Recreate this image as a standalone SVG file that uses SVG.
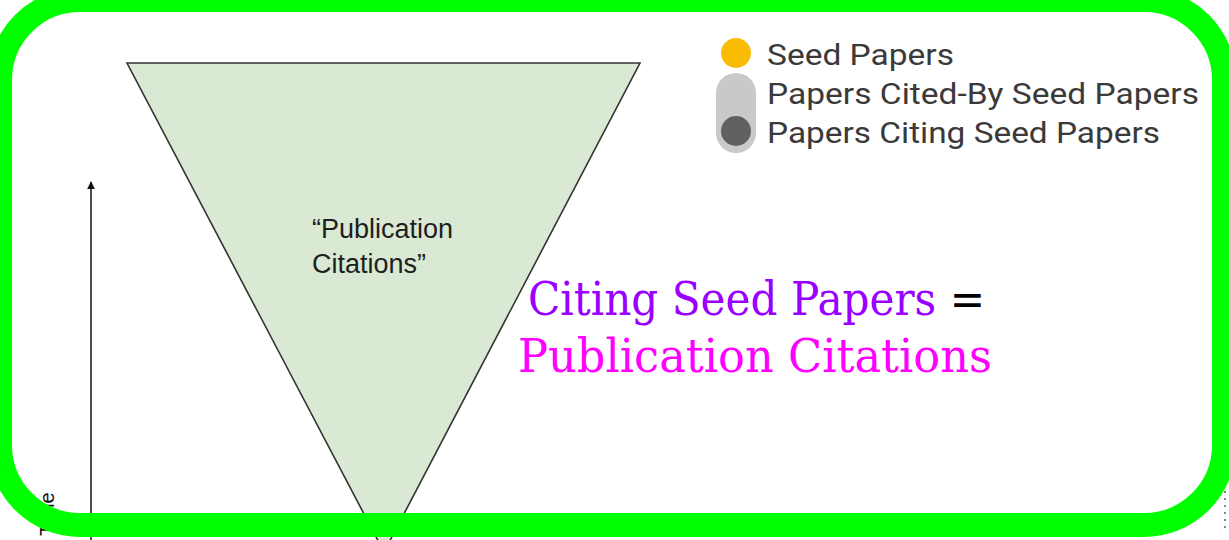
<svg xmlns="http://www.w3.org/2000/svg" width="1229" height="540" viewBox="0 0 1229 540">
<style>
.legend{font-family:Roboto,"Liberation Sans",sans-serif;font-size:29px;fill:#3a3a3a}
.tri{font-family:"Liberation Sans",Arial,sans-serif;font-size:27px;fill:#1e1e1e}
.big{font-family:"DejaVu Serif","Liberation Serif",serif;font-size:46px}
</style>
<defs>
<marker id="ah" viewBox="0 0 10 10" refX="9" refY="5" markerWidth="8" markerHeight="10" markerUnits="userSpaceOnUse" orient="auto">
<path d="M0,0 L10,5 L0,10 z" fill="#111"/>
</marker>
</defs>
<rect x="0" y="0" width="1229" height="540" fill="#fff"/>
<g id="axis">
<line x1="91" y1="545" x2="91" y2="182" stroke="#222" stroke-width="1.6" marker-end="url(#ah)"/>
<text x="0" y="0" transform="translate(54,536) rotate(-90)" font-family="Liberation Sans,Arial,sans-serif" font-size="20" fill="#111">Time</text>
</g>
<g id="funnel">
<polygon points="127,63 640,63 384,552" fill="#d9e9d3" stroke="#333" stroke-width="1.6"/>
<text class="tri" x="312" y="238">“Publication</text>
<text class="tri" x="312" y="273">Citations”</text>
</g>
<g id="legend">
<rect x="716" y="73" width="40" height="80" rx="20" fill="#c9c9c9"/>
<circle cx="736" cy="53" r="15" fill="#fbbc04"/>
<circle cx="736" cy="131" r="15" fill="#616161"/>
<text class="legend" x="767" y="65" textLength="187" lengthAdjust="spacingAndGlyphs">Seed Papers</text>
<text class="legend" x="767" y="104" textLength="432" lengthAdjust="spacingAndGlyphs">Papers Cited-By Seed Papers</text>
<text class="legend" x="767" y="143" textLength="393" lengthAdjust="spacingAndGlyphs">Papers Citing Seed Papers</text>
</g>
<g id="equation">
<text class="big" x="528" y="315" fill="#9900ff" textLength="457" lengthAdjust="spacingAndGlyphs">Citing Seed Papers <tspan fill="#000">=</tspan></text>
<text class="big" x="518" y="372" fill="#ff00ff" textLength="474" lengthAdjust="spacingAndGlyphs">Publication Citations</text>
</g>
<g id="connectors"></g>
<line x1="1225" y1="470" x2="1225" y2="532" stroke="#888" stroke-width="2" stroke-dasharray="2 5"/>
<rect x="0" y="0" width="1224" height="525" rx="80" ry="80" fill="none" stroke="#00ff00" stroke-width="24"/>
</svg>
